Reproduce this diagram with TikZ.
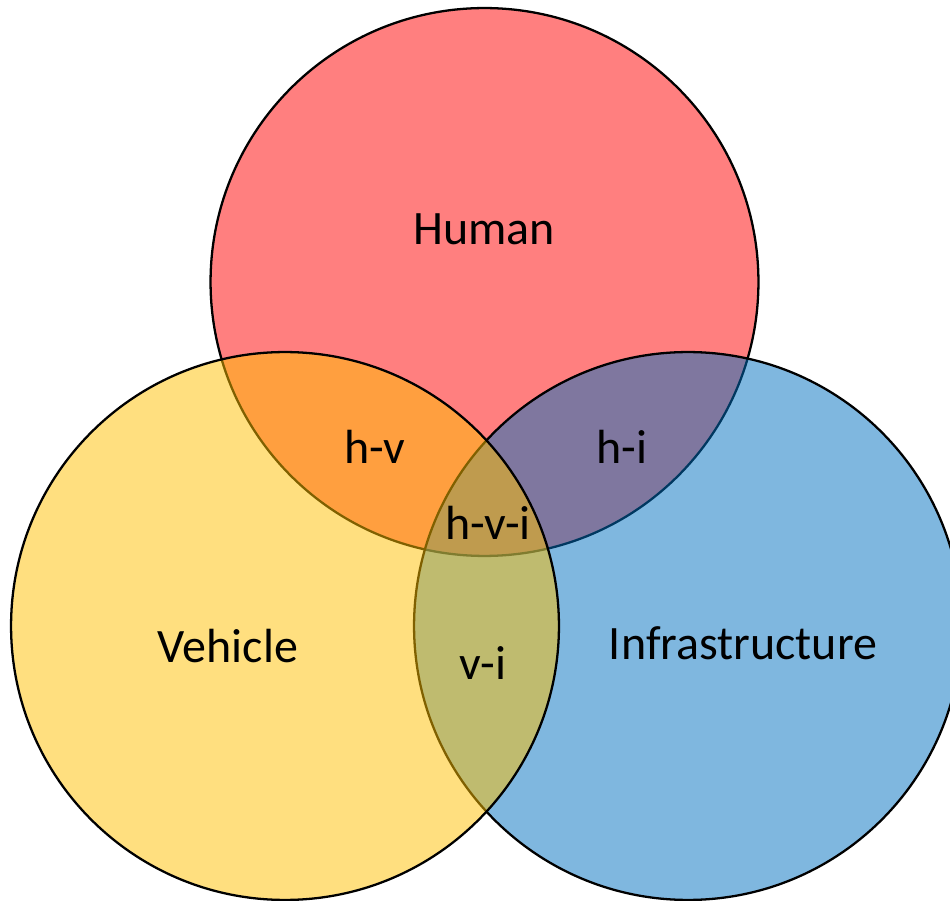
\documentclass[tikz,border=0pt]{standalone}
\usepackage{fontspec}
\setmainfont{Carlito}
\usepackage{tikz}
\definecolor{humanred}{HTML}{FF0000}
\definecolor{vehicleyellow}{HTML}{FFC000}
\definecolor{infrablue}{HTML}{0070C0}

\begin{document}
\begin{tikzpicture}[
  x=0.02cm, y=-0.02cm,
  set/.style={circle, draw=black, line width=1.3pt, fill opacity=0.5, minimum size=10.96cm, inner sep=0pt},
  lbl/.style={font=\fontsize{27.3}{31}\selectfont, text=black},
]
\useasboundingbox (0,0) rectangle (950,901);
\clip (0,0) rectangle (950,901);

% The three sets, drawn red, blue, yellow so the later fills tint earlier outlines
\node[set, fill=humanred] (human) at (484.5,282) {};
\node[set, fill=infrablue] (infra) at (688,626) {};
\node[set, fill=vehicleyellow] (vehicle) at (285,626) {};

% Set names
\node[lbl] (humanlbl) at (484,229) {Human};
\node[lbl] (vehiclelbl) at (228,646) {Vehicle};
\node[lbl] (infralbl) at (743,643) {Infrastructure};

% Overlaps
\node[lbl] (hv) at (375,447) {h-v};
\node[lbl] (hi) at (622,447) {h-i};
\node[lbl] (hvi) at (488,523) {h-v-i};
\node[lbl] (vi) at (483,663) {v-i};
\end{tikzpicture}
\end{document}
